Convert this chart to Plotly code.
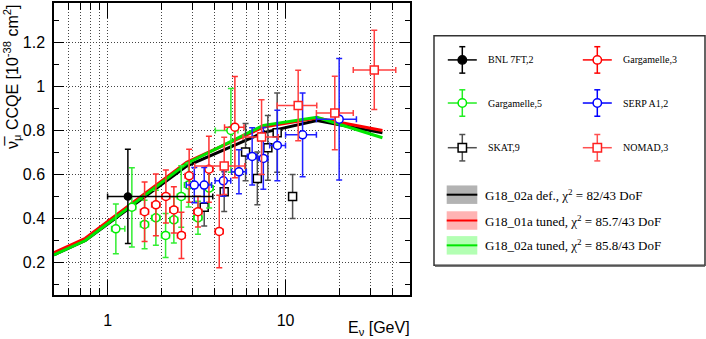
import plotly.graph_objects as go
import math

# ---------------- data ----------------
bnl_E = [1.3]
bnl_v = [0.50]
bnl_ey = [0.214]
bnl_exm = [0.30]
bnl_exp = [2.60]

garg3_E = [1.614, 1.868, 2.126, 2.357, 2.60, 2.873, 3.22, 3.71, 4.24, 5.19]
garg3_v = [0.431, 0.462, 0.500, 0.439, 0.323, 0.594, 0.431, 0.624, 0.341, 0.815]
garg3_ey = [0.135, 0.140, 0.120, 0.105, 0.105, 0.120, 0.070, 0.150, 0.165, 0.230]
garg3_ex = [0.085, 0.10, 0.11, 0.12, 0.13, 0.15, 0.17, 0.20, 0.22, 0.65]

garg5_E = [1.113, 1.369, 1.614, 1.868, 2.118, 2.357, 2.592, 2.851, 3.22, 3.72, 4.93]
garg5_v = [0.353, 0.451, 0.373, 0.403, 0.323, 0.394, 0.500, 0.552, 0.403, 0.538, 0.800]
garg5_ey = [0.113, 0.180, 0.110, 0.125, 0.100, 0.105, 0.140, 0.100, 0.075, 0.090, 0.190]
garg5_exm = [0.06, 0.07, 0.085, 0.10, 0.11, 0.12, 0.13, 0.15, 0.17, 0.20, 0.90]
garg5_exp = [0.137, 0.07, 0.085, 0.10, 0.11, 0.12, 0.13, 0.15, 0.17, 0.20, 0.47]

serp_E = [3.07, 3.49, 4.47, 5.47, 6.49, 7.50, 8.99, 12.46, 20.0]
serp_v = [0.552, 0.552, 0.571, 0.612, 0.682, 0.673, 0.732, 0.780, 0.851]
serp_ey = [0.080, 0.080, 0.070, 0.100, 0.130, 0.140, 0.160, 0.190, 0.276]
serp_exm = [0.30, 0.35, 0.45, 0.50, 0.40, 0.45, 0.85, 2.46, 5.1]
serp_exp = [0.30, 0.35, 0.45, 0.55, 0.40, 0.45, 1.00, 2.44, 5.0]

skat_E = [3.49, 4.52, 5.96, 6.94, 7.95, 8.97, 10.95]
skat_v = [0.451, 0.522, 0.702, 0.582, 0.721, 0.790, 0.500]
skat_ey = [0.085, 0.090, 0.130, 0.120, 0.147, 0.180, 0.100]

nomad_E = [4.52, 7.33, 11.77, 18.9, 31.5]
nomad_v = [0.639, 0.770, 0.913, 0.879, 1.075]
nomad_ey = [0.130, 0.170, 0.160, 0.167, 0.180]
nomad_exm = [1.43, 1.56, 2.80, 4.0, 7.5]
nomad_exp = [1.38, 1.77, 3.20, 5.1, 10.1]

model_E = [0.5, 0.75, 2.78, 7.5, 15.0, 35.0]
model_def = [0.235, 0.300, 0.638, 0.790, 0.845, 0.789]
model_01a = [0.245, 0.310, 0.655, 0.815, 0.857, 0.800]
model_02a = [0.235, 0.300, 0.650, 0.823, 0.860, 0.767]

x_major = [1, 10]
x_minor = [0.6, 0.7, 0.8, 0.9, 2, 3, 4, 5, 6, 7, 8, 9, 20, 30, 40]
y_ticks = [0.2, 0.4, 0.6, 0.8, 1.0, 1.2]
y_ticklabels = ["0.2", "0.4", "0.6", "0.8", "1", "1.2"]

# ---------------- figure ----------------
W, H = 706, 339
L, R, T, B = 54, 410, 1, 295

fig = go.Figure()

for E, v, col in [(model_E, model_def, "black"), (model_E, model_01a, "#ff0000"),
                  (model_E, model_02a, "#00e600")]:
    fig.add_trace(go.Scatter(x=E, y=v, mode="lines", line=dict(color=col, width=3),
                             showlegend=False, hoverinfo="skip"))


def pts(E, v, ey, exm, exp, sym, mcol, fill, ecol, size=8):
    d = dict(x=E, y=v, mode="markers", showlegend=False,
             marker=dict(symbol=sym, size=size, color=fill,
                         line=dict(color=mcol, width=1.5)),
             error_y=dict(type="data", array=ey, color=ecol, thickness=1.5, width=3))
    if exm is not None:
        d["error_x"] = dict(type="data", array=exp, arrayminus=exm, color=ecol,
                            thickness=1.5, width=3)
    fig.add_trace(go.Scatter(**d))


pts(skat_E, skat_v, skat_ey, None, None, "square", "black", "white", "#505050")
pts(garg5_E, garg5_v, garg5_ey, garg5_exm, garg5_exp, "circle", "#00ee00", "white", "#33ee33")
pts(garg3_E, garg3_v, garg3_ey, garg3_ex, garg3_ex, "circle", "#ff0000", "white", "#ff3030")
pts(serp_E, serp_v, serp_ey, serp_exm, serp_exp, "circle", "#0000ff", "white", "#2020ff")
pts(nomad_E, nomad_v, nomad_ey, nomad_exm, nomad_exp, "square", "#ff2020", "white", "#ff4040")
pts(bnl_E, bnl_v, bnl_ey, bnl_exm, bnl_exp, "circle", "black", "black", "black", size=7)

fig.update_xaxes(
    type="log", range=[math.log10(0.5), math.log10(50)],
    tickvals=x_major, ticktext=["1", "10"],
    ticks="inside", ticklen=15, tickwidth=1, tickcolor="black",
    showline=True, linecolor="black", linewidth=1.5, mirror="ticks",
    showgrid=True, gridcolor="#444", griddash="1px,2px", gridwidth=1,
    zeroline=False, ticklabelstandoff=10,
    tickfont=dict(family="Liberation Sans", size=16, color="black"),
    minor=dict(tickvals=x_minor, ticks="inside", ticklen=7, tickcolor="black",
               showgrid=True, gridcolor="#444", griddash="1px,2px", gridwidth=1),
)
fig.update_yaxes(
    range=[0.0524, 1.379], tickvals=y_ticks, ticktext=y_ticklabels,
    ticks="inside", ticklen=10, tickwidth=1, tickcolor="black",
    showline=True, linecolor="black", linewidth=1.5, mirror="ticks",
    showgrid=True, gridcolor="#444", griddash="1px,2px", gridwidth=1,
    zeroline=False, ticklabelstandoff=4,
    tickfont=dict(family="Liberation Sans", size=16, color="black"),
    minor=dict(dtick=0.1, tick0=0, ticks="inside", ticklen=5, tickcolor="black", showgrid=False),
)


def px(x):
    return (x - L) / (R - L)


def py(y):
    return (B - y) / (B - T)


shapes = []
ann = []

# axis titles
ann.append(dict(text="ν̅<sub>μ</sub> CCQE [10<sup>-38</sup> cm<sup>2</sup>]",
                xref="paper", yref="paper", x=px(12), y=py(1), xanchor="center", yanchor="top",
                textangle=-90, showarrow=False,
                font=dict(family="Liberation Sans", size=16, color="black")))
ann.append(dict(text="E<sub>ν</sub> [GeV]", xref="paper", yref="paper",
                x=px(412), y=py(329), xanchor="right", yanchor="middle", showarrow=False,
                font=dict(family="Liberation Sans", size=16, color="black")))

# legend box
shapes.append(dict(type="rect", xref="paper", yref="paper", x0=px(434), x1=px(705),
                   y0=py(34), y1=py(265), line=dict(color="#333", width=1.5),
                   fillcolor="white", layer="below"))
shapes.append(dict(type="line", xref="paper", yref="paper", x0=px(435), x1=px(705),
                   y0=py(266), y1=py(266), line=dict(color="#777", width=1.5)))


def leg_data(cx, cy, lcol, mcol, fill, sym, label):
    shapes.append(dict(type="line", xref="paper", yref="paper", x0=px(cx - 14.5), x1=px(cx + 14.5),
                       y0=py(cy), y1=py(cy), line=dict(color=lcol, width=1.5)))
    shapes.append(dict(type="line", xref="paper", yref="paper", x0=px(cx), x1=px(cx),
                       y0=py(cy - 13.3), y1=py(cy + 13.3), line=dict(color=lcol, width=1.5)))
    for yy in (cy - 13.3, cy + 13.3):
        shapes.append(dict(type="line", xref="paper", yref="paper", x0=px(cx - 3), x1=px(cx + 3),
                           y0=py(yy), y1=py(yy), line=dict(color=lcol, width=1.5)))
    r = 4.2
    shapes.append(dict(type=sym, xref="paper", yref="paper", x0=px(cx - r), x1=px(cx + r),
                       y0=py(cy - r), y1=py(cy + r), line=dict(color=mcol, width=1.5),
                       fillcolor=fill))
    ann.append(dict(text=label, xref="paper", yref="paper", x=px(cx + 23.5), y=py(cy),
                    xanchor="left", yanchor="middle", showarrow=False,
                    font=dict(family="Liberation Serif", size=10, color="black")))


leg_data(462.3, 58.3, "black", "black", "black", "circle", "BNL 7FT,2")
leg_data(597.3, 58.3, "#ff0000", "#ff0000", "white", "circle", "Gargamelle,3")
leg_data(462.3, 101.7, "#22ee22", "#00ee00", "white", "circle", "Gargamelle,5")
leg_data(597.3, 101.7, "#0000ff", "#0000ff", "white", "circle", "SERP A1,2")
leg_data(462.3, 146.7, "#505050", "black", "white", "rect", "SKAT,9")
leg_data(597.3, 146.7, "#ff5050", "#ff2020", "white", "rect", "NOMAD,3")


def leg_model(cy, fill, lcol, label):
    shapes.append(dict(type="rect", xref="paper", yref="paper", x0=px(446.7), x1=px(477.3),
                       y0=py(cy - 9.3), y1=py(cy + 9.3), line=dict(width=0), fillcolor=fill))
    shapes.append(dict(type="line", xref="paper", yref="paper", x0=px(446.7), x1=px(477.3),
                       y0=py(cy), y1=py(cy), line=dict(color=lcol, width=2)))
    ann.append(dict(text=label, xref="paper", yref="paper", x=px(483), y=py(cy),
                    xanchor="left", yanchor="middle", showarrow=False,
                    font=dict(family="Liberation Serif", size=13, color="black")))


leg_model(194, "#b3b3b3", "black", "G18_02a def., χ<sup>2</sup> = 82/43 DoF")
leg_model(220, "#ffb3b3", "#ff0000", "G18_01a tuned, χ<sup>2</sup> = 85.7/43 DoF")
leg_model(245, "#b3ffb3", "#00e600", "G18_02a tuned, χ<sup>2</sup> = 85.8/43 DoF")

fig.update_layout(
    width=W, height=H, autosize=False,
    margin=dict(l=L, r=W - R, t=T, b=H - B, pad=0),
    paper_bgcolor="white", plot_bgcolor="white",
    shapes=shapes, annotations=ann, showlegend=False,
)

fig.write_html("out.html", config={"displayModeBar": False},
               post_script="document.body.style.margin='0';")
